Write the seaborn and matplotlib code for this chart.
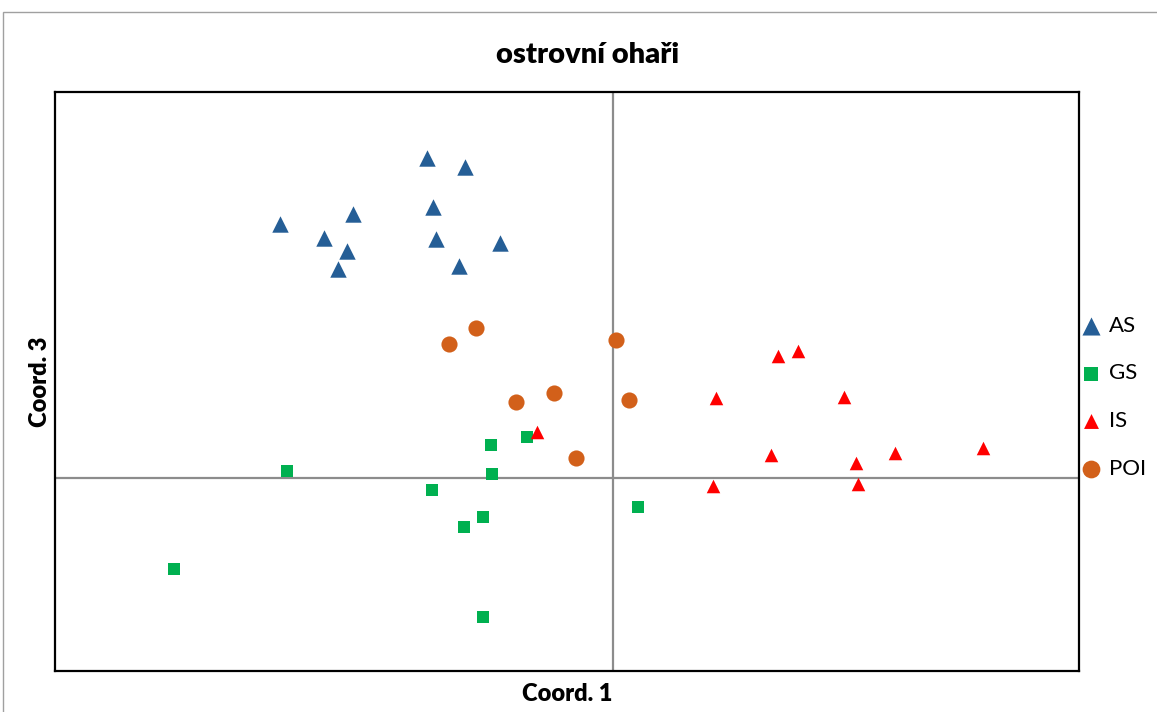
import pandas as pd
import seaborn as sns
import matplotlib.pyplot as plt
from matplotlib.patches import Rectangle

sns.set_style("white")
plt.rcParams['font.family'] = ['Lato', 'DejaVu Sans']
plt.rcParams['text.color'] = 'black'
plt.rcParams['axes.labelcolor'] = 'black'

# PCoA scores (Coord. 1, Coord. 3)
as_x = [-1.86, -1.48, -1.80, -2.60, -3.33, -2.89, -1.77, -1.13, -2.66, -1.54, -2.75]
as_y = [3.20, 3.11, 2.71, 2.64, 2.54, 2.40, 2.39, 2.35, 2.27, 2.12, 2.09]

gs_x = [-4.39, -3.26, -1.81, -1.49, -1.30, -1.30, -1.22, -1.21, -0.86, 0.25]
gs_y = [-0.91, 0.07, -0.12, -0.49, -0.39, -1.39, 0.33, 0.04, 0.41, -0.29]

is_x = [1.65, 1.85, 1.03, 2.31, 1.58, 2.82, 3.70, 2.43, 1.00, 2.45, -0.76]
is_y = [1.22, 1.27, 0.80, 0.81, 0.23, 0.25, 0.30, 0.15, -0.08, -0.06, 0.46]

poi_x = [-1.64, -1.37, 0.03, -0.97, -0.59, 0.16, -0.37]
poi_y = [1.34, 1.50, 1.38, 0.76, 0.85, 0.78, 0.20]

df = pd.concat([
    pd.DataFrame({"x": as_x, "y": as_y, "group": "AS"}),
    pd.DataFrame({"x": gs_x, "y": gs_y, "group": "GS"}),
    pd.DataFrame({"x": is_x, "y": is_y, "group": "IS"}),
    pd.DataFrame({"x": poi_x, "y": poi_y, "group": "POI"}),
])

styles = {
    "AS": dict(color="#255E96", marker="^", s=140),
    "GS": dict(color="#00B050", marker="s", s=85),
    "IS": dict(color="#FF0000", marker="^", s=95),
    "POI": dict(color="#D2601A", marker="o", s=135),
}

fig = plt.figure(figsize=(11.57, 7.12), dpi=100)
ax = fig.add_axes([0.0475, 0.0569, 0.8847, 0.8139])

# thin grey frame around the whole chart area
fig.patches.append(Rectangle((3 / 1157, -0.01), 1.01, 1 - 12 / 712 + 0.01,
                             transform=fig.transFigure, fill=False,
                             edgecolor="#A0A0A0", linewidth=1))

ax.axhline(0, color="#8C8C8C", linewidth=1.6, zorder=1)
ax.axvline(0, color="#8C8C8C", linewidth=1.6, zorder=1)

for grp, st in styles.items():
    sub = df[df["group"] == grp]
    sns.scatterplot(data=sub, x="x", y="y", ax=ax, color=st["color"],
                    marker=st["marker"], s=st["s"], linewidth=0,
                    label=grp, zorder=3)

ax.set_xlim(-5.58, 4.655)
ax.set_ylim(-1.935, 3.86)
ax.set_xticks([])
ax.set_yticks([])
for sp in ax.spines.values():
    sp.set_color("black")
    sp.set_linewidth(1.6)

# title is centred on the whole chart box, not on the plot area
fig.text(588 / 1157, 1 - 55 / 712, "ostrovní ohaři", fontsize=21,
         fontweight="heavy", ha="center", va="center")
ax.set_xlabel("Coord. 1", fontsize=17, fontweight="heavy", labelpad=8)
ax.set_ylabel("Coord. 3", fontsize=17, fontweight="heavy", labelpad=3)

ax.legend(loc="center left", bbox_to_anchor=(1.003, 0.473), frameon=False,
          fontsize=16, handlelength=0.8, handletextpad=0.45, labelspacing=1.25,
          borderpad=0, borderaxespad=0, markerscale=1.1)

fig.savefig("out.png", dpi=100)
